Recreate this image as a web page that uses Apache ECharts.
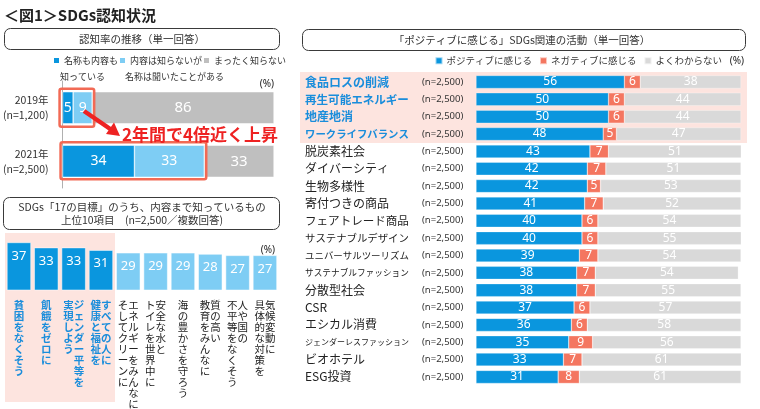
<!DOCTYPE html>
<html><head><meta charset="utf-8">
<script src="https://cdn.jsdelivr.net/npm/echarts@6/dist/echarts.min.js"></script>
<style>html,body{margin:0;padding:0;background:#fff}#c{width:760px;height:409px}</style>
</head><body><div id="c"></div>
<script>
const FONT = '"Noto Sans CJK JP", "Noto Sans", sans-serif';
const LATIN = '"Noto Sans", "Noto Sans CJK JP", sans-serif';
const DARK = '#0a96de', LIGHT = '#7ecdf4', GREY = '#bfbfbf', GREY2 = '#d9d9d9', NEG = '#f47660';
const BLUE_TXT = '#1a8ddb', RED = '#ee2222', PINK = '#fde4df';

// ---- 認知率の推移 ----
const awareYears = ['2019年', '2021年'];
const awareN = ['(n=1,200)', '(n=2,500)'];
const awareSeries = ['名称も内容も知っている', '内容は知らないが名称は聞いたことがある', 'まったく知らない'];
const awareLegendLine1 = ['名称も内容も', '内容は知らないが', 'まったく知らない'];
const awareLegendLine2 = ['知っている', '名称は聞いたことがある', ''];
const awareKnowContent = [5, 34];
const awareHeardName = [9, 33];
const awareNotKnow = [86, 33];

// ---- 17の目標 上位10項目 ----
const goalLabels = ['貧困をなくそう', '飢餓をゼロに', 'ジェンダー平等を\n実現しよう', 'すべての人に\n健康と福祉を',
  'エネルギーをみんなに\nそしてクリーンに', '安全な水と\nトイレを世界中に', '海の豊かさを守ろう',
  '質の高い\n教育をみんなに', '人や国の\n不平等をなくそう', '気候変動に\n具体的な対策を'];
const goalValues = [37, 33, 33, 31, 29, 29, 29, 28, 27, 27];

// ---- ポジティブに感じる活動 ----
const activities = ['食品ロスの削減', '再生可能エネルギー', '地産地消', 'ワークライフバランス', '脱炭素社会',
  'ダイバーシティ', '生物多様性', '寄付つきの商品', 'フェアトレード商品', 'サステナブルデザイン',
  'ユニバーサルツーリズム', 'サステナブルファッション', '分散型社会', 'CSR', 'エシカル消費',
  'ジェンダーレスファッション', 'ビオホテル', 'ESG投資'];
const activityN = '(n=2,500)';
const actSeries = ['ポジティブに感じる', 'ネガティブに感じる', 'よくわからない'];
const positive = [56, 50, 50, 48, 43, 42, 42, 41, 40, 40, 39, 38, 38, 37, 36, 35, 33, 31];
const negative = [6, 6, 6, 5, 7, 7, 5, 7, 6, 6, 7, 7, 7, 6, 6, 9, 7, 8];
const unknown = [38, 44, 44, 47, 51, 51, 53, 52, 54, 55, 54, 54, 55, 57, 58, 56, 61, 61];

function vert(label) {
  const cols = label.split('\n').map(s => Array.from(s));
  const n = Math.max(...cols.map(c => c.length));
  const rows = [];
  for (let i = 0; i < n; i++) {
    let r = '';
    for (let c = cols.length - 1; c >= 0; c--) r += cols[c][i] || '\u3000';
    rows.push(r);
  }
  return rows;
}

const rightRich = { n: { fontSize: 9.5, color: '#333', fontFamily: LATIN } };
activities.forEach((a, i) => {
  rightRich['a' + i] = {
    width: 117, fontFamily: FONT,
    fontSize: Math.min(12, 104 / Array.from(a).length),
    fontWeight: i < 4 ? 'bold' : 'normal',
    color: i < 4 ? BLUE_TXT : '#222'
  };
});

const chart = echarts.init(document.getElementById('c'), null, { renderer: 'canvas' });

const leftLegendX = [52, 118, 202];
const legends = awareSeries.map((s, i) => ({
  data: [s], left: leftLegendX[i], top: 56, padding: 0, selectedMode: false,
  icon: 'rect', itemWidth: 7, itemHeight: 7, itemGap: 4,
  formatter: () => awareLegendLine1[i],
  textStyle: { fontSize: 9, color: '#333', fontFamily: FONT, padding: [0, 0, 0, -1] }
}));
legends.push({
  data: actSeries, right: 38, top: 56, padding: 0, selectedMode: false,
  icon: 'rect', itemWidth: 7, itemHeight: 7, itemGap: 7,
  textStyle: { fontSize: 9.5, color: '#333', fontFamily: FONT, padding: [0, 0, 0, -1] }
});

const lbl = (size) => ({ show: true, position: 'inside', color: '#fff', fontSize: size, fontFamily: LATIN });

const option = {
  animation: false,
  textStyle: { fontFamily: FONT },
  legend: legends,
  grid: [
    { left: 53, width: 221, top: 81, height: 107 },
    { left: 5.3, width: 273.3, top: 238.6, height: 58.4 },
    { left: 476, width: 265, top: 73.3, height: 312.3 }
  ],
  xAxis: [
    { gridIndex: 0, type: 'value', min: 0, max: 100, show: false },
    { gridIndex: 1, type: 'category', data: goalLabels,
      axisLine: { show: false }, axisTick: { show: false },
      axisLabel: { interval: 0, margin: 9, verticalAlign: 'top', align: 'center', hideOverlap: false,
        formatter: (v, i) => vert(v).map(r => '{' + (i < 4 ? 'h' : 't') + '|' + r + '}').join('\n'),
        rich: {
          h: { color: BLUE_TXT, fontWeight: 'bold', fontSize: 10.5, lineHeight: 11, fontFamily: FONT },
          t: { color: '#222', fontSize: 10.5, lineHeight: 11, fontFamily: FONT }
        } } },
    { gridIndex: 2, type: 'value', min: 0, max: 100, show: false }
  ],
  yAxis: [
    { gridIndex: 0, type: 'category', inverse: true, data: awareYears,
      axisLine: { show: true, lineStyle: { color: '#b0b0b0' } }, axisTick: { show: false },
      axisLabel: { align: 'right', margin: 14, fontSize: 10.5, lineHeight: 15, color: '#333',
        formatter: (v, i) => v + '\n' + awareN[i] } },
    { gridIndex: 1, type: 'value', min: 0, max: 40, show: false },
    { gridIndex: 2, type: 'category', inverse: true, data: activities,
      axisLine: { show: false }, axisTick: { show: false },
      axisLabel: { interval: 0, align: 'left', margin: 171,
        formatter: (v, i) => '{a' + i + '|' + v + '}{n|' + activityN + '}', rich: rightRich } }
  ],
  series: [
    { name: awareSeries[0], type: 'bar', xAxisIndex: 0, yAxisIndex: 0, stack: 'a', barWidth: 32,
      data: awareKnowContent, itemStyle: { color: DARK, borderColor: '#fff', borderWidth: 0.5 }, label: lbl(14) },
    { name: awareSeries[1], type: 'bar', xAxisIndex: 0, yAxisIndex: 0, stack: 'a', barWidth: 32,
      data: awareHeardName, itemStyle: { color: LIGHT, borderColor: '#fff', borderWidth: 0.5 }, label: lbl(14) },
    { name: awareSeries[2], type: 'bar', xAxisIndex: 0, yAxisIndex: 0, stack: 'a', barWidth: 32,
      data: awareNotKnow, itemStyle: { color: GREY, borderColor: '#fff', borderWidth: 0.5 }, label: lbl(15) },
    { name: 'SDGs「17の目標」', type: 'bar', xAxisIndex: 1, yAxisIndex: 1, barWidth: 24,
      data: goalValues.map((v, i) => ({ value: v, itemStyle: { color: i < 4 ? DARK : LIGHT } })),
      itemStyle: { borderColor: '#fff', borderWidth: 0.5 },
      label: { show: true, position: 'insideTop', distance: 7, color: '#fff', fontSize: 13, fontFamily: LATIN } },
    { name: actSeries[0], type: 'bar', xAxisIndex: 2, yAxisIndex: 2, stack: 'r', barWidth: 13,
      data: positive, itemStyle: { color: DARK, borderColor: 'rgba(255,255,255,0.6)', borderWidth: 0.5 }, label: lbl(12) },
    { name: actSeries[1], type: 'bar', xAxisIndex: 2, yAxisIndex: 2, stack: 'r', barWidth: 13,
      data: negative, itemStyle: { color: NEG, borderColor: 'rgba(255,255,255,0.6)', borderWidth: 0.5 }, label: lbl(12) },
    { name: actSeries[2], type: 'bar', xAxisIndex: 2, yAxisIndex: 2, stack: 'r', barWidth: 13,
      data: unknown, itemStyle: { color: GREY2, borderColor: 'rgba(255,255,255,0.6)', borderWidth: 0.5 }, label: lbl(12) }
  ]
};
chart.setOption(option);

// highlight boxes positioned via the axis scale
const p19a = chart.convertToPixel({ gridIndex: 0 }, [0, '2019年']);
const p19b = chart.convertToPixel({ gridIndex: 0 }, [awareKnowContent[0] + awareHeardName[0], '2019年']);
const p21a = chart.convertToPixel({ gridIndex: 0 }, [0, '2021年']);
const p21b = chart.convertToPixel({ gridIndex: 0 }, [awareKnowContent[1] + awareHeardName[1], '2021年']);

const boxStyle = { fill: '#fff', stroke: '#3a3a3a', lineWidth: 1 };
chart.setOption({
  graphic: [
    { type: 'rect', z: 0, shape: { x: 5, y: 233, width: 110, height: 169 }, style: { fill: PINK } },
    { type: 'rect', z: 0, shape: { x: 300, y: 72, width: 447, height: 71 }, style: { fill: PINK } },
    { type: 'text', z: 10, x: 4, y: 15, style: { text: '＜図1＞SDGs認知状況', font: 'bold 15px ' + FONT, fill: '#222', verticalAlign: 'middle' } },
    { type: 'rect', z: 10, shape: { x: 4.5, y: 28.5, width: 275, height: 21, r: 6 }, style: boxStyle },
    { type: 'text', z: 11, x: 142, y: 39, style: { text: '認知率の推移（単一回答）', font: '10.5px ' + FONT, fill: '#333', align: 'center', verticalAlign: 'middle' } },
    { type: 'rect', z: 10, shape: { x: 3.5, y: 197.5, width: 276, height: 32, r: 6 }, style: boxStyle },
    { type: 'text', z: 11, x: 142, y: 213.5, style: { text: 'SDGs「17の目標」のうち、内容まで知っているもの\n上位10項目　(n=2,500／複数回答)', font: '10.5px ' + FONT, fill: '#333', align: 'center', verticalAlign: 'middle', lineHeight: 13 } },
    { type: 'rect', z: 10, shape: { x: 302.5, y: 29.5, width: 443, height: 21, r: 6 }, style: boxStyle },
    { type: 'text', z: 11, x: 522, y: 40, style: { text: '「ポジティブに感じる」SDGs関連の活動（単一回答）', font: '10.5px ' + FONT, fill: '#333', align: 'center', verticalAlign: 'middle' } },
    { type: 'text', z: 11, x: 60, y: 77, style: { text: awareLegendLine2[0], font: '9px ' + FONT, fill: '#333', verticalAlign: 'middle' } },
    { type: 'text', z: 11, x: 125, y: 77, style: { text: awareLegendLine2[1], font: '9px ' + FONT, fill: '#333', verticalAlign: 'middle' } },
    { type: 'text', z: 11, x: 274, y: 84, style: { text: '(%)', font: '10px ' + LATIN, fill: '#222', align: 'right', verticalAlign: 'middle' } },
    { type: 'text', z: 11, x: 275, y: 250, style: { text: '(%)', font: '10px ' + LATIN, fill: '#222', align: 'right', verticalAlign: 'middle' } },
    { type: 'text', z: 11, x: 744, y: 61, style: { text: '(%)', font: '10px ' + LATIN, fill: '#222', align: 'right', verticalAlign: 'middle' } },
    { type: 'rect', z: 20, shape: { x: p19a[0] - 3, y: p19a[1] - 19, width: p19b[0] - p19a[0] + 5, height: 38, r: 2 }, style: { fill: 'none', stroke: '#f26a55', lineWidth: 2.5 } },
    { type: 'rect', z: 20, shape: { x: p21a[0] - 2, y: p21a[1] - 19, width: p21b[0] - p21a[0] + 4, height: 37, r: 2 }, style: { fill: 'none', stroke: '#f26a55', lineWidth: 2.5 } },
    { type: 'line', z: 21, shape: { x1: 84, y1: 111, x2: 111, y2: 129.5 }, style: { stroke: RED, lineWidth: 4.5 } },
    { type: 'polygon', z: 21, shape: { points: [[120, 136], [106, 134], [114, 122.5]] }, style: { fill: RED } },
    { type: 'text', z: 21, x: 122, y: 135, style: { text: '2年間で4倍近く上昇', font: 'bold 17px ' + FONT, fill: RED, verticalAlign: 'middle' } }
  ]
});
</script></body></html>
